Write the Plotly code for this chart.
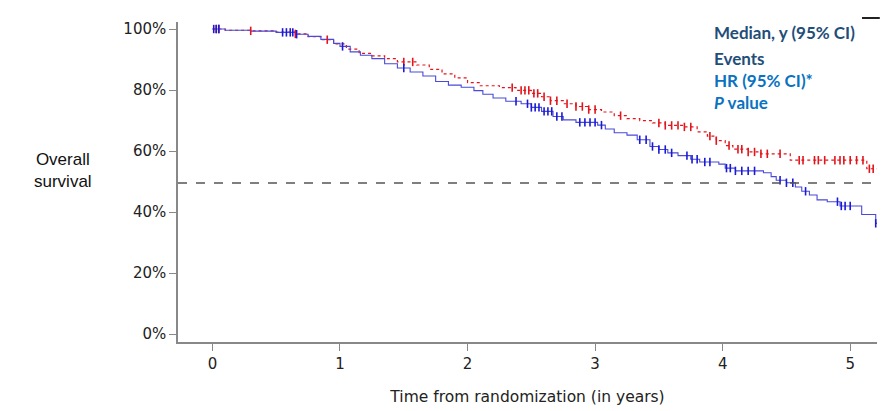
import numpy as np
import plotly.graph_objects as go

# ---- data ----
blue_t = [0, 0.1, 0.3, 0.5, 0.65, 0.75, 0.85, 0.95, 1.0, 1.08, 1.16, 1.25, 1.35, 1.45, 1.55,
          1.65, 1.75, 1.85, 1.95, 2.05, 2.12, 2.2, 2.3, 2.42, 2.5, 2.58, 2.67, 2.75, 2.85,
          3.02, 3.08, 3.15, 3.25, 3.33, 3.43, 3.5, 3.57, 3.65, 3.75, 3.82, 3.97, 4.02, 4.1,
          4.32, 4.38, 4.42, 4.5, 4.57, 4.62, 4.68, 4.74, 4.82, 4.92, 5.09, 5.20, 5.21]
blue_s = [100, 99.6, 99.3, 98.9, 98.3, 97.6, 96.6, 95.3, 94.3, 92.5, 91.4, 90.3, 88.6, 87.2, 85.9,
          84.6, 82.8, 81.6, 80.9, 79.8, 78.6, 77.4, 76.3, 75.5, 74.3, 73.0, 71.3, 70.2, 69.4,
          68.5, 67.2, 66.0, 65.2, 63.7, 61.5, 60.5, 59.4, 58.5, 57.3, 56.4, 55.7, 54.4, 53.5,
          52.9, 51.6, 50.4, 49.6, 48.2, 46.8, 45.6, 44.0, 43.4, 42.0, 39.2, 36.3, 36.3]

red_t = [0, 0.1, 0.3, 0.5, 0.65, 0.75, 0.85, 0.95, 1.05, 1.15, 1.25, 1.35, 1.45, 1.6, 1.7,
         1.8, 1.9, 2.0, 2.1, 2.25, 2.38, 2.5, 2.58, 2.65, 2.75, 2.85, 2.95, 3.05, 3.15, 3.25,
         3.35, 3.45, 3.55, 3.7, 3.8, 3.88, 3.95, 4.02, 4.08, 4.2, 4.3, 4.53, 5.13, 5.21]
red_s = [100, 99.6, 99.4, 99.0, 98.4, 97.5, 96.5, 95.1, 93.4, 92.0, 91.2, 90.3, 89.2, 88.2, 86.8,
         85.3, 84.0, 82.4, 81.4, 80.8, 79.9, 78.9, 77.8, 76.5, 75.5, 74.6, 73.6, 72.8, 71.6, 70.6,
         70.0, 69.2, 68.4, 67.9, 66.3, 64.9, 63.4, 61.8, 60.6, 59.7, 59.1, 57.0, 54.2, 54.2]

blue_cens = [0.01, 0.03, 0.05, 0.55, 0.58, 0.61, 0.63, 0.66, 1.02, 1.5, 2.38, 2.47, 2.5, 2.53,
             2.56, 2.6, 2.63, 2.66, 2.7, 2.74, 2.88, 2.92, 2.96, 3.0, 3.05, 3.35, 3.4, 3.45,
             3.5, 3.55, 3.6, 3.72, 3.76, 3.8, 3.86, 3.9, 4.03, 4.06, 4.1, 4.15, 4.2, 4.25,
             4.45, 4.5, 4.55, 4.65, 4.9, 4.93, 4.96, 5.0, 5.2]
red_cens = [0.03, 0.05, 0.3, 0.65, 0.9, 1.5, 1.57, 2.35, 2.42, 2.45, 2.48, 2.52, 2.55, 2.6,
            2.65, 2.7, 2.78, 2.85, 2.9, 2.95, 3.0, 3.2, 3.5, 3.55, 3.6, 3.65, 3.7, 3.75, 3.9,
            3.95, 4.05, 4.12, 4.15, 4.2, 4.25, 4.3, 4.35, 4.45, 4.6, 4.63, 4.72, 4.75, 4.8,
            4.88, 4.92, 4.95, 5.0, 5.05, 5.1, 5.15, 5.18]

median_line = 49.5
y_ticks = [0, 20, 40, 60, 80, 100]
y_tick_text = ["0%", "20%", "40%", "60%", "80%", "100%"]
x_ticks = [0, 1, 2, 3, 4, 5]


def lookup(ts, ss, cens):
    ts = np.asarray(ts); ss = np.asarray(ss)
    idx = np.searchsorted(ts, np.asarray(cens), side="right") - 1
    return ss[idx]

RED = "#e3141b"
BLUE = "#1a1ad6"

fig = go.Figure()
fig.add_trace(go.Scatter(x=red_t, y=red_s, mode="lines", line_shape="hv",
                         line=dict(color=RED, width=1.2, dash="dot"), hoverinfo="skip"))
fig.add_trace(go.Scatter(x=blue_t, y=blue_s, mode="lines", line_shape="hv",
                         line=dict(color="#4a4ad8", width=1.1), hoverinfo="skip"))
fig.add_trace(go.Scatter(x=red_cens, y=lookup(red_t, red_s, red_cens), mode="markers",
                         marker=dict(symbol="line-ns", size=6, line=dict(color=RED, width=1.6)),
                         hoverinfo="skip"))
fig.add_trace(go.Scatter(x=blue_cens, y=lookup(blue_t, blue_s, blue_cens), mode="markers",
                         marker=dict(symbol="line-ns", size=6, line=dict(color=BLUE, width=1.6)),
                         hoverinfo="skip"))

fig.add_shape(type="line", xref="paper", yref="y", x0=0, x1=1, y0=median_line, y1=median_line,
              line=dict(color="#555555", width=1.4, dash="dash"))
fig.add_shape(type="line", xref="paper", yref="paper", x0=0.9785, x1=1.004, y0=1.0125, y1=1.0125,
              line=dict(color="#222222", width=2))

leg_font = "Lato, 'Open Sans', sans-serif"
NAVY = "#1f4e79"
LBLUE = "#0a72c0"
legend_items = [("<b>Median, y (95% CI)</b>", NAVY, 32),
                ("<b>Events</b>", NAVY, 58),
                ("<b>HR (95% CI)*</b>", LBLUE, 80),
                ("<b><i>P</i> value</b>", LBLUE, 102)]
for txt, col, py in legend_items:
    fig.add_annotation(text=txt, xref="paper", yref="paper", x=(712 - 178) / 699,
                       y=(342 - py) / 320, xanchor="left", yanchor="middle", showarrow=False,
                       font=dict(family=leg_font, size=17, color=col))

fig.add_annotation(text="Overall<br>survival", xref="paper", yref="paper",
                   x=(63 - 178) / 699, y=(342 - 170) / 320, xanchor="center", yanchor="middle",
                   showarrow=False, align="center",
                   font=dict(family="Liberation Sans, Arial, sans-serif", size=17, color="#111111"))

fig.update_layout(
    width=883, height=411,
    margin=dict(l=178, r=6, t=22, b=69),
    paper_bgcolor="white", plot_bgcolor="white",
    showlegend=False,
    font=dict(family="DejaVu Sans, Verdana, sans-serif", size=15, color="#222222"),
    xaxis=dict(range=[-0.27, 5.21], tickvals=x_ticks, ticks="outside", ticklen=7,
               tickcolor="#888888", tickwidth=1.3, showline=True, linecolor="#888888",
               linewidth=1.5, showgrid=False, zeroline=False,
               tickfont=dict(size=15, color="#222222"),
               title=dict(text="Time from randomization (in years)", standoff=19,
                          font=dict(size=15.5, color="#222222"))),
    yaxis=dict(range=[-2.6, 102.3], tickvals=y_ticks, ticktext=y_tick_text, ticks="outside",
               ticklen=7, tickcolor="#888888", tickwidth=1.3, showline=True,
               linecolor="#888888", linewidth=1.5, showgrid=False, zeroline=False,
               tickfont=dict(size=15, color="#222222")),
)

fig.write_html("out.html")
